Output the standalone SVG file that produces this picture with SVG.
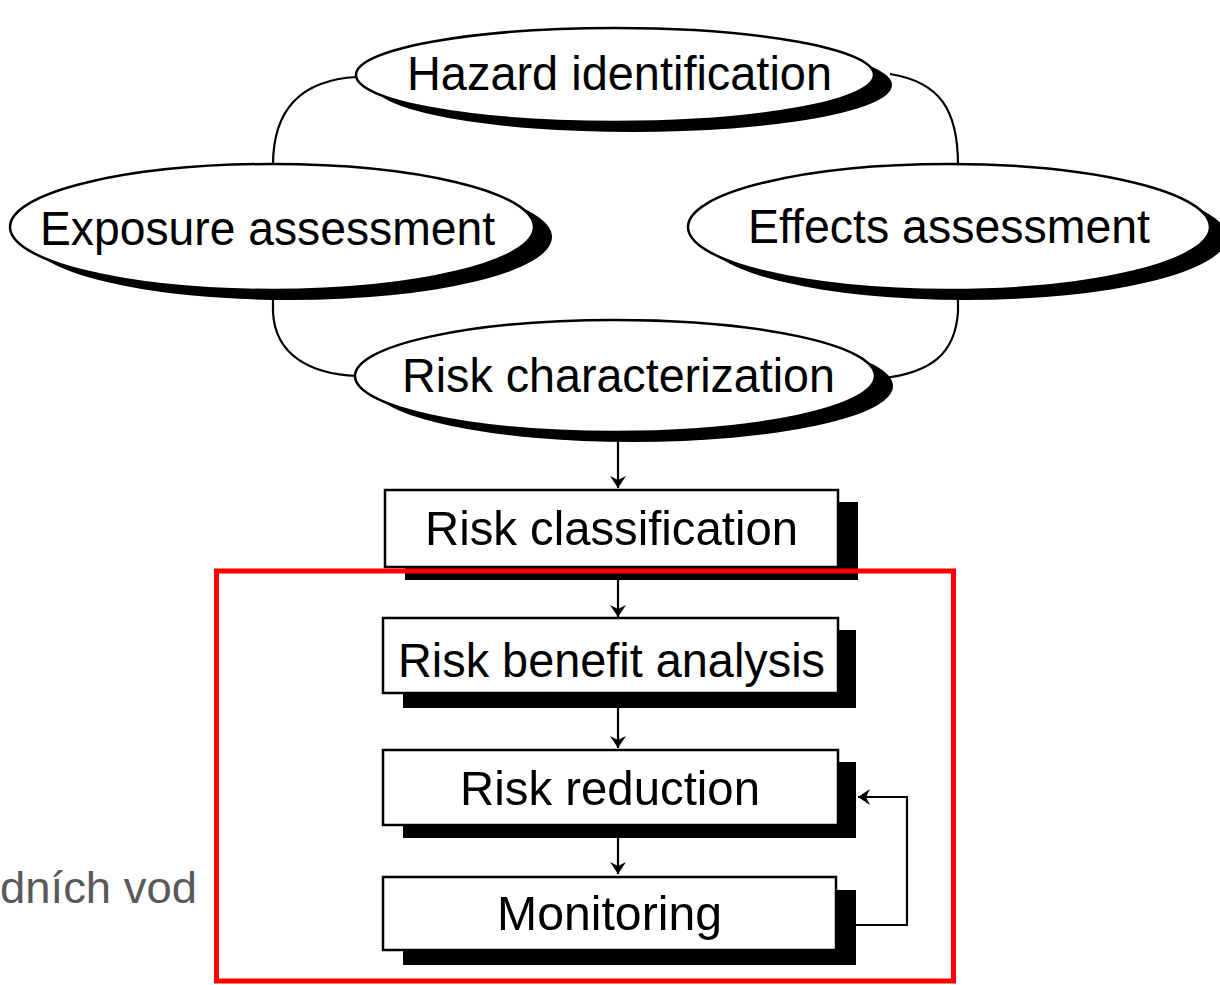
<svg xmlns="http://www.w3.org/2000/svg" width="1220" height="985" viewBox="0 0 1220 985">
<defs>
<style>
.el{fill:#fff;stroke:#000;stroke-width:2.5}
.sh{fill:#000}
.bx{fill:#fff;stroke:#000;stroke-width:2.5}
.t{font-family:"Liberation Sans",Arial,sans-serif;font-size:49px;fill:#000;text-anchor:start}
.ln{fill:none;stroke:#000;stroke-width:2.2}
</style>
<marker id="ah" viewBox="0 0 12 16" refX="12" refY="8" markerWidth="12" markerHeight="16" markerUnits="userSpaceOnUse" orient="auto">
<path d="M0,0 L12,8 L0,16 L4,8 Z" fill="#000"/>
</marker>
</defs>
<rect width="1220" height="985" fill="#fff"/>

<g id="connectors">
<path class="ln" d="M357,77 C 300,80 273,110 273,165"/>
<path class="ln" d="M890,74 C 940,82 958,110 958,165"/>
<path class="ln" d="M273,296 L273,312 C 275,355 310,374 357,376"/>
<path class="ln" d="M958,296 L958,312 C 955,355 930,372 885,378"/>
<path class="ln" d="M618,442 L618,488" marker-end="url(#ah)"/>
<path class="ln" d="M618,580 L618,617" marker-end="url(#ah)"/>
<path class="ln" d="M618,708 L618,748" marker-end="url(#ah)"/>
<path class="ln" d="M618,838 L618,874" marker-end="url(#ah)"/>
<path class="ln" d="M856,925 L907,925 L907,797 L858,797" marker-end="url(#ah)"/>
</g>

<g id="hazard">
<ellipse class="sh" cx="633" cy="85" rx="259" ry="47"/>
<ellipse class="el" cx="615" cy="75" rx="259" ry="47"/>
<text class="t" x="407" y="90" textLength="425" lengthAdjust="spacingAndGlyphs">Hazard identification</text>
</g>

<g id="exposure">
<ellipse class="sh" cx="290" cy="237" rx="262" ry="63"/>
<ellipse class="el" cx="272" cy="227" rx="262" ry="63"/>
<text class="t" x="40" y="245" textLength="455" lengthAdjust="spacingAndGlyphs">Exposure assessment</text>
</g>

<g id="effects">
<ellipse class="sh" cx="966" cy="237" rx="261" ry="63"/>
<ellipse class="el" cx="949" cy="227" rx="261" ry="63"/>
<text class="t" x="748" y="243" textLength="402" lengthAdjust="spacingAndGlyphs">Effects assessment</text>
</g>

<g id="riskchar">
<ellipse class="sh" cx="633" cy="386" rx="260" ry="56"/>
<ellipse class="el" cx="615" cy="376" rx="260" ry="56"/>
<text class="t" x="402" y="392" textLength="433" lengthAdjust="spacingAndGlyphs">Risk characterization</text>
</g>

<g id="riskclass">
<rect class="sh" x="405" y="502" width="453" height="78"/>
<rect class="bx" x="385" y="490" width="453" height="77"/>
<text class="t" x="425" y="545" textLength="373" lengthAdjust="spacingAndGlyphs">Risk classification</text>
</g>

<g id="riskbenefit">
<rect class="sh" x="403" y="630" width="453" height="78"/>
<rect class="bx" x="383" y="618" width="455" height="75"/>
<text class="t" x="398" y="677" textLength="427" lengthAdjust="spacingAndGlyphs">Risk benefit analysis</text>
</g>

<g id="riskreduction">
<rect class="sh" x="403" y="762" width="453" height="76"/>
<rect class="bx" x="383" y="750" width="455" height="75"/>
<text class="t" x="460" y="805" textLength="300" lengthAdjust="spacingAndGlyphs">Risk reduction</text>
</g>

<g id="monitoring">
<rect class="sh" x="403" y="890" width="453" height="75"/>
<rect class="bx" x="383" y="877" width="453" height="73"/>
<text class="t" x="497" y="930" textLength="225" lengthAdjust="spacingAndGlyphs">Monitoring</text>
</g>

<g id="highlight">
<rect x="216.5" y="571" width="737" height="410" fill="none" stroke="#ff0000" stroke-width="5"/>
</g>

<g id="caption">
<text x="0" y="903" font-family="'Liberation Sans',Arial,sans-serif" font-size="44" fill="#595959" textLength="197" lengthAdjust="spacingAndGlyphs">dních vod</text>
</g>
</svg>
